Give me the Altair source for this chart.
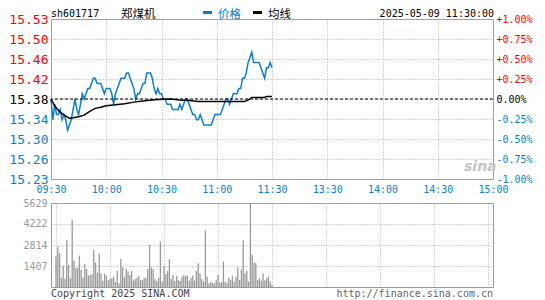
import altair as alt
import pandas as pd

# ---------------- data ----------------
stock_code = "sh601717"
stock_name = "郑煤机"
stamp = "2025-05-09 11:30:00"
series_names = ["价格", "均线"]
prev_close = 15.38

minutes = list(range(121))
price = [15.38, 15.34, 15.37, 15.35, 15.35, 15.36, 15.34, 15.35, 15.34, 15.32,
         15.33, 15.34, 15.36, 15.38, 15.36, 15.35, 15.37, 15.39, 15.38, 15.39,
         15.40, 15.40, 15.41, 15.42, 15.42, 15.41, 15.41, 15.41, 15.40, 15.39,
         15.40, 15.40, 15.40, 15.39, 15.37, 15.39, 15.40, 15.41, 15.42, 15.42,
         15.42, 15.43, 15.43, 15.42, 15.41, 15.40, 15.38, 15.39, 15.39, 15.40,
         15.41, 15.41, 15.43, 15.43, 15.43, 15.42, 15.40, 15.39, 15.40, 15.39,
         15.39, 15.38, 15.38, 15.37, 15.37, 15.37, 15.36, 15.36, 15.36, 15.36,
         15.37, 15.36, 15.37, 15.38, 15.38, 15.37, 15.36, 15.35, 15.35, 15.34,
         15.34, 15.35, 15.34, 15.33, 15.33, 15.33, 15.33, 15.33, 15.34, 15.35,
         15.35, 15.35, 15.35, 15.36, 15.37, 15.38, 15.38, 15.37, 15.38, 15.39,
         15.39, 15.39, 15.40, 15.40, 15.42, 15.42, 15.43, 15.45, 15.46, 15.47,
         15.45, 15.45, 15.45, 15.45, 15.44, 15.43, 15.42, 15.44, 15.44, 15.45,
         15.44]

avg_minutes = [0, 2, 4, 6, 8, 10, 12, 15, 18, 20, 22, 24, 27, 30, 35, 40, 45,
               52, 58, 65, 70, 75, 80, 90, 100, 105, 107, 109, 116, 117, 120]
avg_price = [15.380, 15.367, 15.358, 15.352, 15.347, 15.343, 15.344, 15.346,
             15.349, 15.354, 15.358, 15.362, 15.364, 15.367, 15.369, 15.371,
             15.374, 15.377, 15.379, 15.380, 15.378, 15.377, 15.375, 15.375,
             15.375, 15.375, 15.378, 15.383, 15.383, 15.385, 15.385]

volume = [2040, 2714, 2265, 628, 1435, 538, 3163, 1480, 583, 4508,
          1772, 1256, 1300, 2108, 1144, 628, 1548, 1211, 763, 807,
          852, 2490, 1637, 965, 2243, 897, 426, 897, 763, 449,
          538, 583, 673, 336, 1099, 247, 1884, 1323, 650, 1211,
          1032, 807, 1077, 426, 538, 628, 740, 449, 471, 583,
          628, 1211, 2826, 1300, 1211, 538, 404, 628, 3050, 359,
          1368, 875, 1077, 1862, 538, 807, 404, 740, 471, 404,
          695, 807, 740, 763, 426, 628, 763, 426, 1077, 1593,
          920, 538, 359, 3791, 695, 247, 314, 292, 247, 449,
          807, 314, 314, 1705, 359, 247, 628, 471, 740, 359,
          695, 1300, 471, 1166, 3140, 920, 1077, 359, 5629, 2153,
          1637, 1593, 471, 583, 426, 920, 449, 583, 718, 359,
          135]

price_ticks = [15.2262, 15.26465, 15.3031, 15.34155, 15.38,
               15.41845, 15.4569, 15.49535, 15.5338]
time_ticks = [0, 30, 60, 90, 120, 150, 180, 210, 240]
time_labels = ["09:30", "10:00", "10:30", "11:00", "11:30",
               "13:30", "14:00", "14:30", "15:00"]
vol_ticks = [1407, 2814, 4222, 5629]
vol_max = 5629

# ---------------- styles ----------------
RED = "#ff0000"
BLUE = "#0a7fcf"
GRID = "#aaaaaa"
MONO = "DejaVu Sans Mono"
CJK = "Noto Sans CJK SC"
W = 442
H_PRICE = 160
H_VOL = 84

lines_df = pd.concat([
    pd.DataFrame({"m": minutes, "p": price, "series": series_names[0]}),
    pd.DataFrame({"m": avg_minutes, "p": avg_price, "series": series_names[1]}),
])
vol_df = pd.DataFrame({"m": minutes, "v": volume})
prev_df = pd.DataFrame({"p": [prev_close]})

x_scale = alt.Scale(domain=[time_ticks[0], time_ticks[-1]], nice=False, zero=False)
y_scale = alt.Scale(domain=[price_ticks[0], price_ticks[-1]], nice=False, zero=False)

label_color = {
    "condition": [
        {"test": f"datum.value > {prev_close + 0.005}", "value": RED},
        {"test": f"datum.value < {prev_close - 0.005}", "value": BLUE},
    ],
    "value": "#000000",
}

labels_js = "[" + ",".join(f"'{t}'" for t in time_labels) + "]"
time_expr = f"{labels_js}[round(datum.value / 30)]"
pct_expr = (
    f"abs(datum.value - {prev_close}) < 0.0005 ? '0.00%' : "
    f"(datum.value > {prev_close} ? '+' : '-') + "
    f"format(abs(datum.value - {prev_close}) / {prev_close} * 100, '.2f') + '%'"
)

x_axis = alt.Axis(values=time_ticks, labelExpr=time_expr, labelColor=BLUE,
                  labelFont=MONO, labelFontSize=10, labelPadding=5,
                  ticks=False, domain=False, grid=True, gridColor=GRID,
                  gridDash=[1, 2], title=None, labelFlush=False,
                  labelOverlap=False, labelBound=False)
left_axis = alt.Axis(values=price_ticks, labelExpr="format(datum.value, '.2f')",
                     labelColor=label_color, labelFont=MONO, labelFontSize=13,
                     labelPadding=3, ticks=False, domain=False, grid=True,
                     gridColor=GRID, gridDash=[1, 2], title=None,
                     labelOverlap=False)
right_axis = alt.Axis(orient="right", values=price_ticks, labelExpr=pct_expr,
                      labelColor=label_color, labelFont=MONO, labelFontSize=10,
                      labelPadding=3, ticks=False, domain=False, grid=False,
                      title=None, labelOverlap=False)

lines = alt.Chart(lines_df).mark_line(strokeWidth=1.5, interpolate="linear").encode(
    x=alt.X("m:Q", scale=x_scale, axis=x_axis),
    y=alt.Y("p:Q", scale=y_scale, axis=left_axis),
    color=alt.Color("series:N", scale=alt.Scale(domain=series_names, range=[BLUE, "#000000"]),
                    legend=None),
)

prev_rule = alt.Chart(prev_df).mark_rule(color="#000000", strokeDash=[3, 2], strokeWidth=1).encode(
    y=alt.Y("p:Q", scale=y_scale, axis=right_axis)
)


def txt(t, x, y, color="#000", size=10, font=MONO, align="left", **kw):
    return alt.Chart(pd.DataFrame({"t": [t]})).mark_text(
        align=align, baseline="alphabetic", font=font, fontSize=size, color=color, **kw
    ).encode(text="t:N", x=alt.value(x), y=alt.value(y))


def swatch(x0, x1, y, color):
    return alt.Chart(pd.DataFrame({"k": [0]})).mark_rule(color=color, strokeWidth=3).encode(
        x=alt.value(x0), x2=alt.value(x1), y=alt.value(y))


header = [
    txt(stock_code, 0, -2),
    txt(stock_name, 70, -1, size=11.5, font=CJK),
    swatch(152, 161, -6.5, BLUE),
    txt(series_names[0], 167, -1, color=BLUE, size=11.5, font=CJK),
    swatch(202, 211, -6.5, "#000000"),
    txt(series_names[1], 217, -1, size=11.5, font=CJK),
    txt(stamp, W + 1, -2, align="right"),
    txt("sina", 413, 152, color="#c4c4c4", size=14, font="DejaVu Sans",
        fontStyle="italic", fontWeight="bold"),
]

price_chart = alt.layer(lines, prev_rule, *header).resolve_scale(y="independent").properties(
    width=W, height=H_PRICE)

bars = alt.Chart(vol_df).mark_bar(size=1.3, color="#999999").encode(
    x=alt.X("m:Q", scale=x_scale,
            axis=alt.Axis(values=time_ticks, labels=False, ticks=False, domain=False,
                          grid=True, gridColor=GRID, gridDash=[1, 2], title=None)),
    y=alt.Y("v:Q", scale=alt.Scale(domain=[0, vol_max], nice=False),
            axis=alt.Axis(values=vol_ticks, format="d", labelColor="#999999",
                          labelFont=MONO, labelFontSize=10, labelPadding=4,
                          ticks=False, domain=False, grid=True, gridColor=GRID,
                          gridDash=[1, 2], title=None, labelOverlap=False)),
)

footer = [
    txt("Copyright 2025 SINA.COM", 0, H_VOL + 10, color="#444444"),
    txt("http://finance.sina.com.cn", W, H_VOL + 10, color="#666666", align="right"),
]

vol_chart = alt.layer(bars, *footer).properties(width=W, height=H_VOL)

chart = alt.vconcat(price_chart, vol_chart, spacing=24, bounds="flush").properties(
    padding={"top": 0, "left": 0, "right": 0, "bottom": 0},
    background="#ffffff",
).configure_view(stroke="#999999", strokeWidth=1)

chart.save("out.html", embed_options={"renderer": "svg", "actions": False})
